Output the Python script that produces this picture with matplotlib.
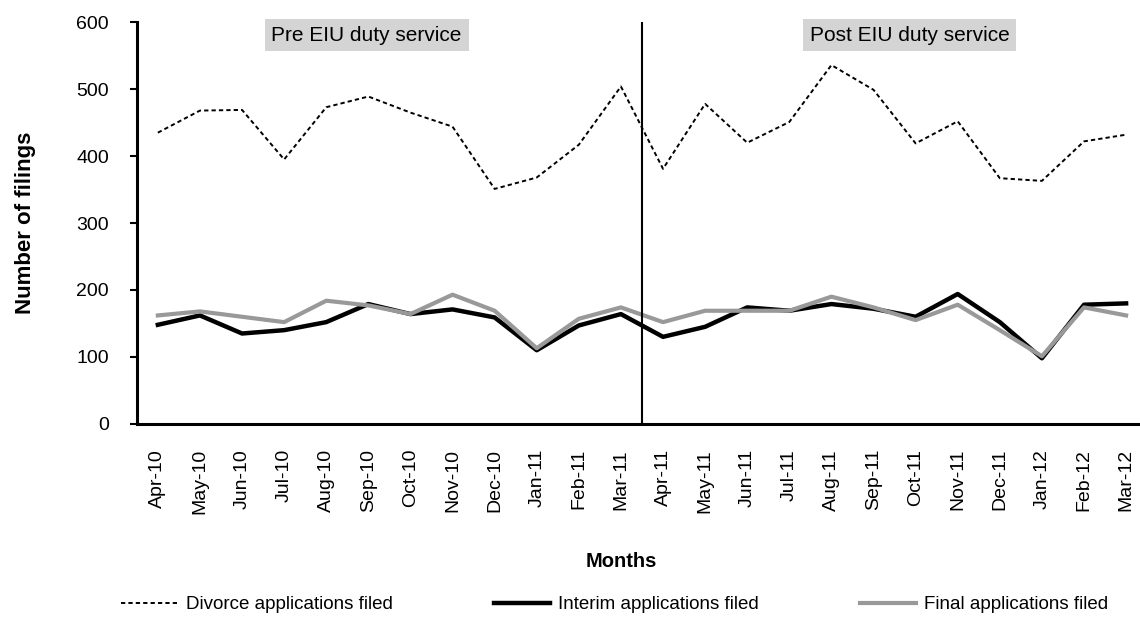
import matplotlib
matplotlib.use("Agg")
import matplotlib.pyplot as plt
import numpy as np

plt.rcParams['font.family'] = ['Liberation Sans', 'DejaVu Sans']

months = ["Apr-10", "May-10", "Jun-10", "Jul-10", "Aug-10", "Sep-10", "Oct-10", "Nov-10",
          "Dec-10", "Jan-11", "Feb-11", "Mar-11", "Apr-11", "May-11", "Jun-11", "Jul-11",
          "Aug-11", "Sep-11", "Oct-11", "Nov-11", "Dec-11", "Jan-12", "Feb-12", "Mar-12"]

divorce = [435, 468, 469, 395, 473, 489, 465, 444, 351, 368, 417, 504,
           381, 478, 420, 451, 536, 499, 419, 452, 367, 363, 422, 432]
interim = [148, 162, 135, 140, 152, 179, 164, 171, 159, 110, 147, 164,
           130, 145, 174, 169, 179, 172, 160, 194, 152, 98, 178, 180]
final = [162, 168, 160, 152, 184, 177, 164, 193, 169, 113, 157, 174,
         152, 169, 169, 169, 190, 174, 155, 178, 140, 101, 174, 162]

x = np.arange(len(months))

fig = plt.figure(figsize=(11.4, 6.17), dpi=100)
ax = fig.add_axes([0.120, 0.313, 0.880, 0.651])

ax.plot(x, divorce, color="black", lw=1.4, ls=(0, (2.2, 1.6)), label="Divorce applications filed")
ax.plot(x, interim, color="black", lw=3.2, label="Interim applications filed")
ax.plot(x, final, color="#999999", lw=3.0, label="Final applications filed")

ax.axvline(11.5, color="black", lw=1.5)

ax.set_xlim(-0.5, 23.33)
ax.set_ylim(0, 600)
ax.set_yticks(range(0, 601, 100))
ax.set_xticks(x)
ax.set_xticklabels(months, rotation=90, fontsize=14)
ax.tick_params(axis="x", length=0, pad=18)
ax.tick_params(axis="y", labelsize=14, length=5, width=1.5, pad=15)

for side in ["top", "right"]:
    ax.spines[side].set_visible(False)
for side in ["left", "bottom"]:
    ax.spines[side].set_linewidth(2.2)

# period labels
box = dict(boxstyle="square,pad=0.32", facecolor="#d4d4d4", edgecolor="none")
ax.text(4.96, 0.968, "Pre EIU duty service", transform=ax.get_xaxis_transform(),
        ha="center", va="center", fontsize=15, bbox=box)
ax.text(17.86, 0.968, "Post EIU duty service", transform=ax.get_xaxis_transform(),
        ha="center", va="center", fontsize=15, bbox=box)

ax.set_ylabel("Number of filings", fontsize=16, fontweight="bold")
ax.yaxis.set_label_coords(-0.100, 0.5)
fig.text(0.545, 0.09, "Months", ha="center", va="center", fontsize=14.5, fontweight="bold")

fig.legend(loc="center", bbox_to_anchor=(0.5395, 0.02), ncol=3, frameon=False,
           fontsize=13.5, handlelength=3.0, columnspacing=5.4, handletextpad=0.43)

fig.savefig("out.png", dpi=100)
